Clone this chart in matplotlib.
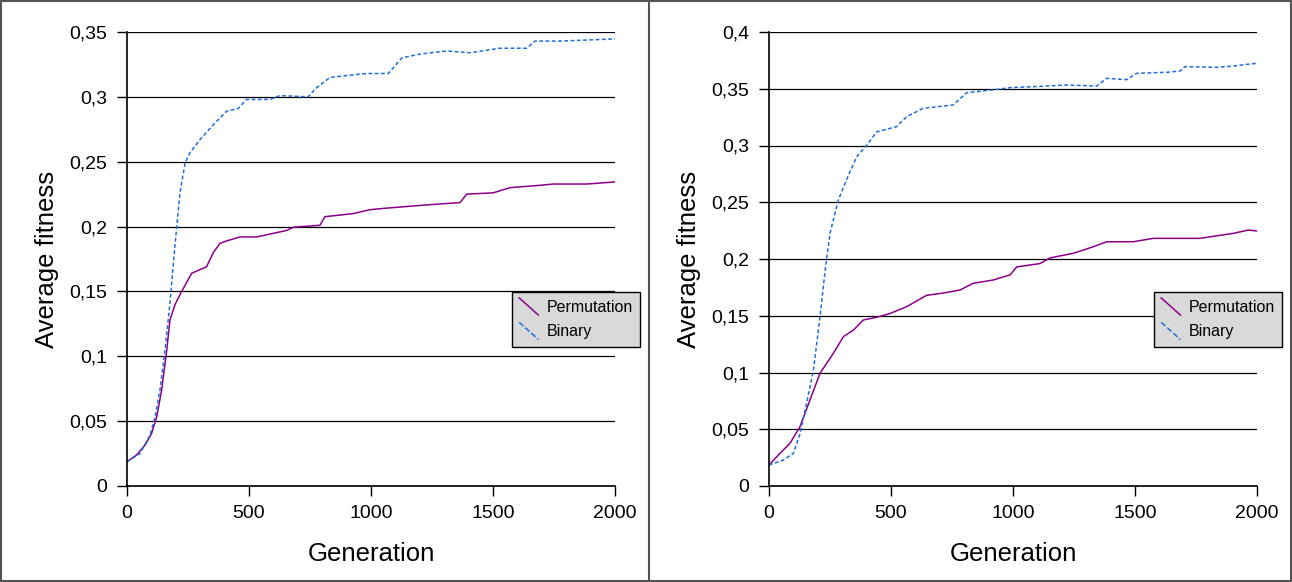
import matplotlib.pyplot as plt
from matplotlib.legend_handler import HandlerBase
from matplotlib.lines import Line2D
from matplotlib.patches import Rectangle

plt.rcParams['font.family'] = ['Liberation Sans', 'DejaVu Sans']

# left panel data (generation, average fitness)
left_bin_gen = [0, 53, 94, 115, 135, 156, 176, 190, 204, 217, 238, 258, 299, 361, 409, 456, 490,
                586, 627, 742, 777, 832, 927, 982, 1071, 1126, 1201, 1310, 1406, 1529, 1638, 1672,
                1775, 1910, 2000]
left_bin_val = [0.0187, 0.025, 0.039, 0.053, 0.074, 0.105, 0.141, 0.172, 0.200, 0.226, 0.249, 0.257,
                0.267, 0.280, 0.289, 0.291, 0.298, 0.298, 0.301, 0.300, 0.307, 0.315, 0.317, 0.318,
                0.318, 0.330, 0.333, 0.3354, 0.334, 0.3375, 0.3375, 0.343, 0.343, 0.344, 0.3447]
left_perm_gen = [0, 40, 74, 101, 122, 142, 163, 176, 197, 224, 265, 326, 354, 381, 409, 463, 531,
                 654, 682, 791, 811, 927, 996, 1050, 1228, 1365, 1392, 1501, 1570, 1679, 1747,
                 1884, 2000]
left_perm_val = [0.0187, 0.024, 0.0316, 0.0406, 0.0535, 0.074, 0.105, 0.128, 0.140, 0.150, 0.164,
                 0.169, 0.180, 0.187, 0.189, 0.192, 0.192, 0.197, 0.1995, 0.201, 0.2076, 0.210,
                 0.213, 0.214, 0.2167, 0.2185, 0.225, 0.226, 0.230, 0.2316, 0.2328, 0.2328, 0.2344]

# right panel data
right_bin_gen = [0, 59, 100, 127, 154, 182, 209, 230, 250, 284, 318, 359, 400, 441, 523, 564, 632,
                 755, 810, 919, 988, 1083, 1220, 1343, 1384, 1466, 1507, 1630, 1684, 1705, 1835,
                 1903, 1958, 2000]
right_bin_val = [0.0185, 0.0229, 0.0288, 0.046, 0.0729, 0.102, 0.149, 0.190, 0.2226, 0.252, 0.270,
                 0.290, 0.300, 0.312, 0.3166, 0.3254, 0.3328, 0.3357, 0.3465, 0.349, 0.351, 0.3518,
                 0.3533, 0.3524, 0.3592, 0.358, 0.3636, 0.3645, 0.3656, 0.3695, 0.3689, 0.370,
                 0.3715, 0.3724]
right_perm_gen = [0, 45, 86, 127, 168, 209, 264, 305, 346, 387, 441, 496, 564, 646, 714, 783, 837,
                  919, 988, 1015, 1111, 1152, 1247, 1329, 1384, 1493, 1575, 1766, 1903, 1964, 2000]
right_perm_val = [0.0185, 0.0288, 0.0376, 0.0523, 0.0758, 0.0993, 0.117, 0.1316, 0.1374, 0.1463,
                  0.1486, 0.152, 0.158, 0.168, 0.170, 0.1727, 0.1786, 0.1815, 0.186, 0.193, 0.196,
                  0.201, 0.205, 0.2108, 0.2152, 0.2152, 0.2182, 0.2182, 0.2226, 0.2255, 0.2247]

x_ticks = [0, 500, 1000, 1500, 2000]
left_yticks = [0, 0.05, 0.1, 0.15, 0.2, 0.25, 0.3, 0.35]
right_yticks = [0, 0.05, 0.1, 0.15, 0.2, 0.25, 0.3, 0.35, 0.4]

PURPLE = '#8b008b'
BLUE = '#1f6fd6'


class DiagHandler(HandlerBase):
    # legend key drawn as a short diagonal line, like the original
    def create_artists(self, legend, orig, xd, yd, w, h, fontsize, trans):
        ln = Line2D([-xd, -xd + w], [-yd + h * 1.1, -yd - h * 0.1],
                    color=orig.get_color(), linestyle=orig.get_linestyle(),
                    linewidth=orig.get_linewidth(), transform=trans)
        return [ln]


def comma(v):
    return '0' if v == 0 else f'{v:g}'.replace('.', ',')


fig = plt.figure(figsize=(12.92, 5.82), dpi=100)

panels = [
    (127, left_perm_gen, left_perm_val, left_bin_gen, left_bin_val, left_yticks, 0.35),
    (769, right_perm_gen, right_perm_val, right_bin_gen, right_bin_val, right_yticks, 0.4),
]

for x0, pg, pv, bg, bv, yt, ytop in panels:
    ax = fig.add_axes([x0 / 1292, 96 / 582, 488 / 1292, 454 / 582])
    lp, = ax.plot(pg, pv, color=PURPLE, lw=1.1, label='Permutation')
    lb, = ax.plot(bg, bv, color=BLUE, lw=1.1, linestyle=(0, (2.5, 1.6)), label='Binary')
    ax.set_xlim(0, 2000)
    ax.set_ylim(0, ytop)
    ax.set_xticks(x_ticks)
    ax.set_yticks(yt)
    ax.set_yticklabels([comma(v) for v in yt])
    ax.grid(axis='y', color='black', lw=0.9)
    ax.set_axisbelow(True)
    for s in ['top', 'right']:
        ax.spines[s].set_visible(False)
    for s in ['left', 'bottom']:
        ax.spines[s].set_linewidth(1.2)
    ax.tick_params(length=7, width=1, labelsize=14, pad=7)
    ax.set_xlabel('Generation', fontsize=18.5, labelpad=14)
    ax.set_ylabel('Average fitness', fontsize=18.5, labelpad=8)
    leg = ax.legend(handles=[lp, lb], loc='upper left', bbox_to_anchor=(0.789, 0.427),
                    handler_map={Line2D: DiagHandler()}, fontsize=11.5, frameon=True,
                    fancybox=False, edgecolor='black', facecolor='#d9d9d9', framealpha=1,
                    handlelength=1.2, handleheight=1.0, handletextpad=0.5,
                    borderpad=0.45, labelspacing=0.55, borderaxespad=0)
    leg.get_frame().set_linewidth(1.0)

# outer border and divider between the two panels
fig.patches.append(Rectangle((0.001, 0.002), 0.998, 0.996, transform=fig.transFigure,
                             fill=False, edgecolor='#555555', lw=1.5))
fig.lines.append(Line2D([649 / 1292, 649 / 1292], [0, 1], transform=fig.transFigure,
                        color='#555555', lw=1.5))

fig.savefig('out.png', dpi=100)
